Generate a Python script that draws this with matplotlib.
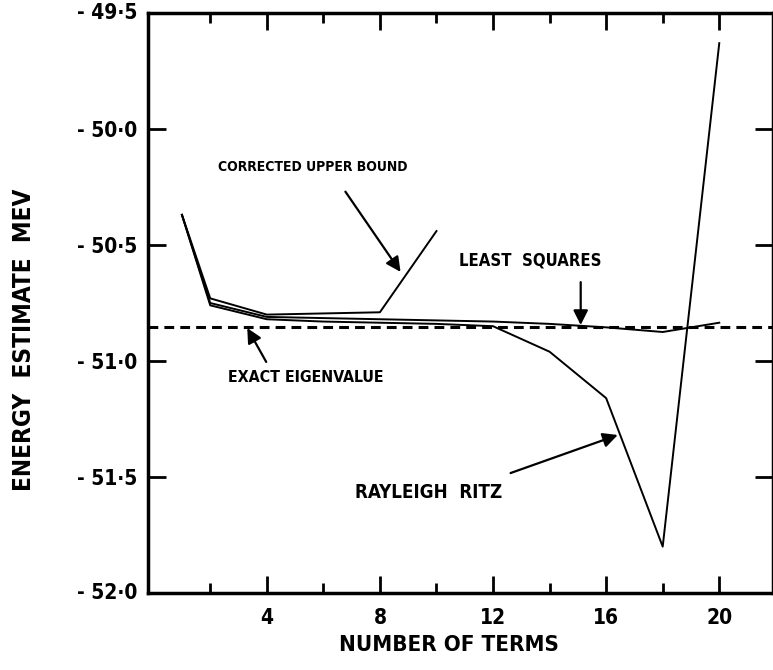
import matplotlib
matplotlib.use('Agg')
import matplotlib.pyplot as plt

plt.rcParams['font.family'] = ['DejaVu Sans']
plt.rcParams['font.stretch'] = 'condensed'
plt.rcParams['font.weight'] = 'bold'

# Data
terms = [1, 2, 4, 6, 8, 10, 12, 14, 16, 18, 20]
rayleigh_ritz = [-50.37, -50.76, -50.82, -50.83, -50.835, -50.84, -50.85, -50.96, -51.16, -51.80, -49.63]
least_squares = [-50.37, -50.75, -50.81, -50.815, -50.82, -50.825, -50.83, -50.84, -50.855, -50.875, -50.835]
corrected_terms = [1, 2, 4, 6, 8, 10]
corrected_upper = [-50.37, -50.73, -50.80, -50.795, -50.79, -50.44]
exact_eigenvalue = -50.855

y_ticks = [-49.5, -50.0, -50.5, -51.0, -51.5, -52.0]
y_tick_labels = ['- 49·5', '- 50·0', '- 50·5', '- 51·0', '- 51·5', '- 52·0']
x_major = [4, 8, 12, 16, 20]
x_minor = [2, 6, 10, 14, 18]

fig = plt.figure(figsize=(7.73, 6.7), dpi=100)
ax = fig.add_axes([148 / 773, 77 / 670, 625 / 773, 580 / 670])

# exact eigenvalue (dashed) and the three estimates
ax.axhline(exact_eigenvalue, color='black', lw=2.2, dashes=(3.2, 2.0))
ax.plot(terms, rayleigh_ritz, color='black', lw=1.4)
ax.plot(terms, least_squares, color='black', lw=1.4)
ax.plot(corrected_terms, corrected_upper, color='black', lw=1.4)

ax.set_xlim(-0.2, 21.9)
ax.set_ylim(-52.0, -49.5)

ax.set_yticks(y_ticks[1:-1])
ax.set_yticklabels(y_tick_labels[1:-1])
ax.set_xticks(x_major)
ax.set_xticklabels([str(v) for v in x_major])
ax.set_xticks(x_minor, minor=True)

ax.tick_params(axis='y', which='major', direction='in', length=13, width=2,
               left=True, right=True, labelsize=15, pad=8)
ax.tick_params(axis='x', which='major', direction='in', length=12, width=2,
               top=True, bottom=True, labelsize=15, pad=11)
ax.tick_params(axis='x', which='minor', direction='in', length=7, width=2,
               top=True, bottom=True)

# end labels of the y axis, placed on the corners like the original
ax.text(-0.017, 1.0, y_tick_labels[0], transform=ax.transAxes, ha='right', va='center', fontsize=15)
ax.text(-0.017, 0.0, y_tick_labels[-1], transform=ax.transAxes, ha='right', va='center', fontsize=15)

for s in ax.spines.values():
    s.set_linewidth(2.5)

fig.text(0.031, 0.4925, 'ENERGY  ESTIMATE  MEV', rotation=90, ha='center', va='center', fontsize=17.5)
fig.text(0.581, 0.037, 'NUMBER OF TERMS', ha='center', va='center', fontsize=16)

# annotations
arrow = dict(arrowstyle='-|>', color='black', lw=1.6, mutation_scale=22, shrinkA=0, shrinkB=0)
ax.text(2.29, -50.164, 'CORRECTED UPPER BOUND', ha='left', va='center', fontsize=10)
ax.annotate('', xy=(8.73, -50.616), xytext=(6.78, -50.27), arrowprops=arrow)
ax.text(10.78, -50.565, 'LEAST  SQUARES', ha='left', va='center', fontsize=12)
ax.annotate('', xy=(15.10, -50.845), xytext=(15.10, -50.66), arrowprops=arrow)
ax.text(2.64, -51.069, 'EXACT EIGENVALUE', ha='left', va='center', fontsize=11.4)
ax.annotate('', xy=(3.31, -50.858), xytext=(3.98, -51.004), arrowprops=arrow)
ax.text(7.13, -51.565, 'RAYLEIGH  RITZ', ha='left', va='center', fontsize=13.5)
ax.annotate('', xy=(16.41, -51.319), xytext=(12.62, -51.483), arrowprops=arrow)

fig.savefig('out.png', dpi=100)
